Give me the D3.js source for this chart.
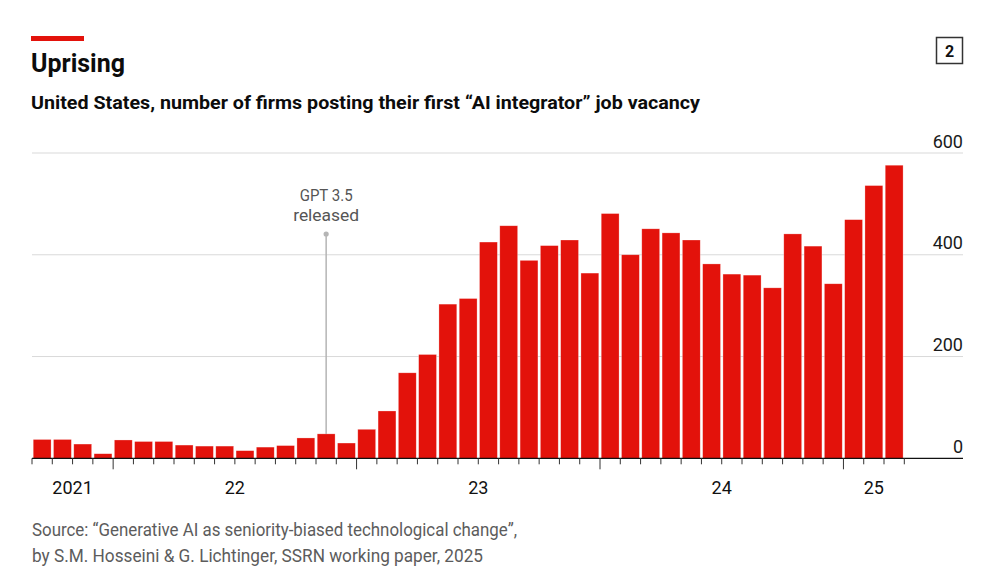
<!DOCTYPE html>
<html>
<head>
<meta charset="utf-8">
<script src="https://cdn.jsdelivr.net/npm/d3@7"></script>
<style>
  body { margin: 0; background: #fff; }
  svg { display: block; font-family: Roboto, "Noto Sans", sans-serif; }
</style>
</head>
<body>
<script>
// Größe wie im Original
const width = 986;
const height = 588;

// Monate von Sep 2021 bis Mär 2025
const months = [
  "2021-09", "2021-10", "2021-11", "2021-12",
  "2022-01", "2022-02", "2022-03", "2022-04", "2022-05", "2022-06",
  "2022-07", "2022-08", "2022-09", "2022-10", "2022-11", "2022-12",
  "2023-01", "2023-02", "2023-03", "2023-04", "2023-05", "2023-06",
  "2023-07", "2023-08", "2023-09", "2023-10", "2023-11", "2023-12",
  "2024-01", "2024-02", "2024-03", "2024-04", "2024-05", "2024-06",
  "2024-07", "2024-08", "2024-09", "2024-10", "2024-11", "2024-12",
  "2025-01", "2025-02", "2025-03"
];

// Anzahl Firmen mit erster "AI integrator"-Stelle
const firms = [
  37, 37, 28, 9,
  36, 33, 33, 26, 24, 24, 15, 22, 25, 40, 48, 30,
  57, 93, 168, 204, 303, 314, 425, 457, 389, 418, 429, 364,
  481, 400, 451, 443, 429, 382, 362, 360, 335, 441, 417, 343,
  469, 536, 576
];

const yTicks = [0, 200, 400, 600];
const yearLabels = ["2021", "22", "23", "24", "25"];
const annotationMonth = "2022-11";
const annotationLines = ["GPT 3.5", "released"];

const red = "#e3120b";

const svg = d3.select("body").append("svg")
    .attr("width", width)
    .attr("height", height)
    .attr("viewBox", [0, 0, width, height]);

// Kopfzeile
svg.append("rect")
    .attr("x", 31).attr("y", 36)
    .attr("width", 53).attr("height", 5)
    .attr("fill", red);

svg.append("text")
    .attr("x", 31).attr("y", 72)
    .attr("font-size", 25)
    .attr("font-weight", 700)
    .attr("fill", "#0c0c0c")
    .attr("textLength", 94)
    .attr("lengthAdjust", "spacingAndGlyphs")
    .text("Uprising");

svg.append("text")
    .attr("x", 31).attr("y", 108.5)
    .attr("font-size", 17.8)
    .attr("font-weight", 700)
    .attr("fill", "#0c0c0c")
    .attr("textLength", 669)
    .attr("lengthAdjust", "spacingAndGlyphs")
    .text("United States, number of firms posting their first “AI integrator” job vacancy");

// Kästchen mit der Nummer
svg.append("rect")
    .attr("x", 936.5).attr("y", 37.5)
    .attr("width", 26).attr("height", 26)
    .attr("fill", "none")
    .attr("stroke", "#333")
    .attr("stroke-width", 1.5);

svg.append("text")
    .attr("x", 949.5).attr("y", 56.5)
    .attr("text-anchor", "middle")
    .attr("font-size", 16)
    .attr("font-weight", 700)
    .attr("fill", "#111")
    .text("2");

// Skalen
const x = d3.scaleBand()
    .domain(months)
    .range([32, 904.3])
    .paddingInner(0.12)
    .paddingOuter(0.06);

const y = d3.scaleLinear()
    .domain([0, 600])
    .range([458.3, 153]);

const step = x.step();
const x0 = x.range()[0];
const gridRight = 963;

// Gitternetz und y-Beschriftung
svg.append("g")
    .selectAll("line")
    .data(yTicks.filter(d => d > 0))
    .join("line")
    .attr("x1", 32).attr("x2", gridRight)
    .attr("y1", d => y(d)).attr("y2", d => y(d))
    .attr("stroke", "#d9d9d9")
    .attr("stroke-width", 1);

svg.append("g")
    .selectAll("text")
    .data(yTicks)
    .join("text")
    .attr("x", gridRight)
    .attr("y", d => y(d) - 5.5)
    .attr("text-anchor", "end")
    .attr("font-size", 18)
    .attr("fill", "#1a1a1a")
    .text(d => d);

// Balken
svg.append("g")
    .selectAll("rect")
    .data(months.map((m, i) => ({ month: m, value: firms[i] })))
    .join("rect")
    .attr("x", d => x(d.month))
    .attr("y", d => y(d.value))
    .attr("width", x.bandwidth())
    .attr("height", d => y(0) - y(d.value))
    .attr("fill", red)
    .attr("stroke", "rgba(255,255,255,0.45)")
    .attr("stroke-width", 0.6);

// Nulllinie
svg.append("line")
    .attr("x1", 32).attr("x2", gridRight)
    .attr("y1", y(0)).attr("y2", y(0))
    .attr("stroke", "#111")
    .attr("stroke-width", 1.2);

// Striche an den Monatsgrenzen, lang am Jahresanfang
const tickIdx = d3.range(months.length + 1);
svg.append("g")
    .selectAll("line")
    .data(tickIdx)
    .join("line")
    .attr("x1", i => x0 + i * step)
    .attr("x2", i => x0 + i * step)
    .attr("y1", y(0))
    .attr("y2", i => (i < months.length && months[i].endsWith("-01")) ? y(0) + 11 : y(0) + 6)
    .attr("stroke", "#333")
    .attr("stroke-width", 1);

// Jahresbeschriftung mittig über den sichtbaren Monaten
const years = Array.from(d3.group(months, m => m.slice(0, 4)), ([yr, ms]) => ({
  year: yr,
  from: x(ms[0]) - step * x.paddingInner() / 2,
  to: x(ms[ms.length - 1]) + x.bandwidth() + step * x.paddingInner() / 2
}));

svg.append("g")
    .selectAll("text")
    .data(years)
    .join("text")
    .attr("x", d => (d.from + d.to) / 2)
    .attr("y", 493.5)
    .attr("text-anchor", "middle")
    .attr("font-size", 18)
    .attr("fill", "#111")
    .text((d, i) => yearLabels[i]);

// Anmerkung GPT 3.5
const ax = x(annotationMonth) + x.bandwidth() / 2;
const aVal = firms[months.indexOf(annotationMonth)];

svg.append("line")
    .attr("x1", ax).attr("x2", ax)
    .attr("y1", 234).attr("y2", y(aVal))
    .attr("stroke", "#b5b5b5")
    .attr("stroke-width", 1.5);

svg.append("circle")
    .attr("cx", ax).attr("cy", 234)
    .attr("r", 2.6)
    .attr("fill", "#b5b5b5");

svg.append("g")
    .selectAll("text")
    .data(annotationLines)
    .join("text")
    .attr("x", ax)
    .attr("y", (d, i) => 201 + i * 20)
    .attr("text-anchor", "middle")
    .attr("font-size", 17)
    .attr("fill", "#555")
    .attr("textLength", (d, i) => i === 0 ? 53 : 66)
    .attr("lengthAdjust", "spacingAndGlyphs")
    .text(d => d);

// Quelle
const sourceLines = [
  "Source: “Generative AI as seniority-biased technological change”,",
  "by S.M. Hosseini & G. Lichtinger, SSRN working paper, 2025"
];
const sourceWidths = [485, 451];

svg.append("g")
    .selectAll("text")
    .data(sourceLines)
    .join("text")
    .attr("x", 32)
    .attr("y", (d, i) => 536 + i * 25.5)
    .attr("font-size", 18)
    .attr("fill", "#5c5c5c")
    .attr("textLength", (d, i) => sourceWidths[i])
    .attr("lengthAdjust", "spacingAndGlyphs")
    .text(d => d);
</script>
</body>
</html>
